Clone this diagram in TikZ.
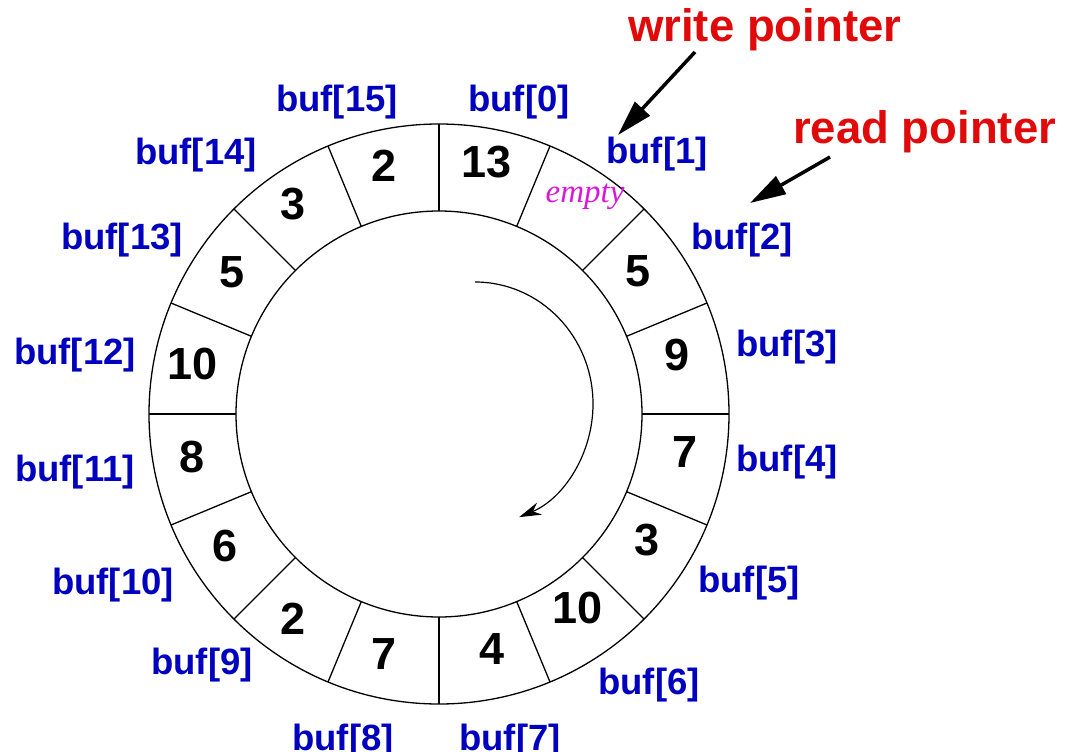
\documentclass[tikz,border=0pt]{standalone}
\usepackage{fontspec}
\setmainfont{Liberation Sans}
\newfontfamily\serifit{Liberation Serif}
\usetikzlibrary{arrows.meta,calc}
\definecolor{lblblue}{RGB}{0,0,190}
\definecolor{ptrred}{RGB}{225,10,10}
\definecolor{emptymag}{RGB}{215,25,215}
\begin{document}
\begin{tikzpicture}[x=1pt,y=1pt,
  ringline/.style={line width=1.3pt},
  idx/.style={text=lblblue, font=\fontsize{36.5}{40}\selectfont\bfseries, inner sep=0pt},
  val/.style={font=\fontsize{45}{50}\selectfont\bfseries, inner sep=0pt},
  ptrtext/.style={text=ptrred, font=\fontsize{45.5}{50}\selectfont\bfseries, inner sep=0pt, anchor=base west},
  ptrarrow/.style={line width=3.5pt, -{Triangle[length=36pt,width=20pt]}},
  turnarrow/.style={line width=1.2pt, -{Stealth[length=22pt,width=13pt]}}
]
\useasboundingbox (0,0) rectangle (1068,-752);
\coordinate (c) at (439,-414);
\draw[ringline] (c) circle[radius=290];
\draw[ringline] (c) circle[radius=203];
\foreach \k in {0,...,15}
  \draw[ringline] ($(c)+({90-22.5*\k}:203)$) -- ($(c)+({90-22.5*\k}:290)$);

% values
\node[val] (v0)  at (487,-162) {13};
\node[text=emptymag, font=\fontsize{33}{36}\selectfont\serifit\itshape, inner sep=0pt] (v1) at (585,-197) {empty};
\node[val] (v2)  at (638,-271) {5};
\node[val] (v3)  at (677,-355) {9};
\node[val] (v4)  at (685,-452) {7};
\node[val] (v5)  at (647,-540) {3};
\node[val] (v6)  at (578,-608) {10};
\node[val] (v7)  at (492,-649) {4};
\node[val] (v8)  at (384,-654) {7};
\node[val] (v9)  at (293,-619) {2};
\node[val] (v10) at (225,-546) {6};
\node[val] (v11) at (192,-457) {8};
\node[val] (v12) at (193,-364) {10};
\node[val] (v13) at (232,-272) {5};
\node[val] (v14) at (293,-204) {3};
\node[val] (v15) at (384,-166) {2};

% index labels
\node[idx] (l0)  at (519,-102) {buf[0]};
\node[idx] (l1)  at (657,-154) {buf[1]};
\node[idx] (l2)  at (742,-240) {buf[2]};
\node[idx] (l3)  at (787,-347) {buf[3]};
\node[idx] (l4)  at (787,-462) {buf[4]};
\node[idx] (l5)  at (749,-583) {buf[5]};
\node[idx] (l6)  at (649,-685) {buf[6]};
\node[idx] (l7)  at (510,-741) {buf[7]};
\node[idx] (l8)  at (343,-741) {buf[8]};
\node[idx] (l9)  at (202,-665) {buf[9]};
\node[idx] (l10) at (113,-585) {buf[10]};
\node[idx] (l11) at (75,-472) {buf[11]};
\node[idx] (l12) at (75,-355) {buf[12]};
\node[idx] (l13) at (122,-240) {buf[13]};
\node[idx] (l14) at (196,-155) {buf[14]};
\node[idx] (l15) at (337,-102) {buf[15]};

% pointers
\node[ptrtext] (wp) at (628,-42) {write pointer};
\node[ptrtext] (rp) at (793,-143) {read pointer};
\coordinate (wtail) at (695,-52);
\coordinate (whead) at (618,-135);
\coordinate (rtail) at (830,-157);
\coordinate (rhead) at (750,-203);
\draw[ptrarrow] (wtail) -- (whead);
\draw[ptrarrow] (rtail) -- (rhead);

% direction of traversal
\coordinate (arcstart) at (475,-282);
\draw[turnarrow] (arcstart) arc[start angle=90, end angle=-68, x radius=118, y radius=122];
\end{tikzpicture}
\end{document}
